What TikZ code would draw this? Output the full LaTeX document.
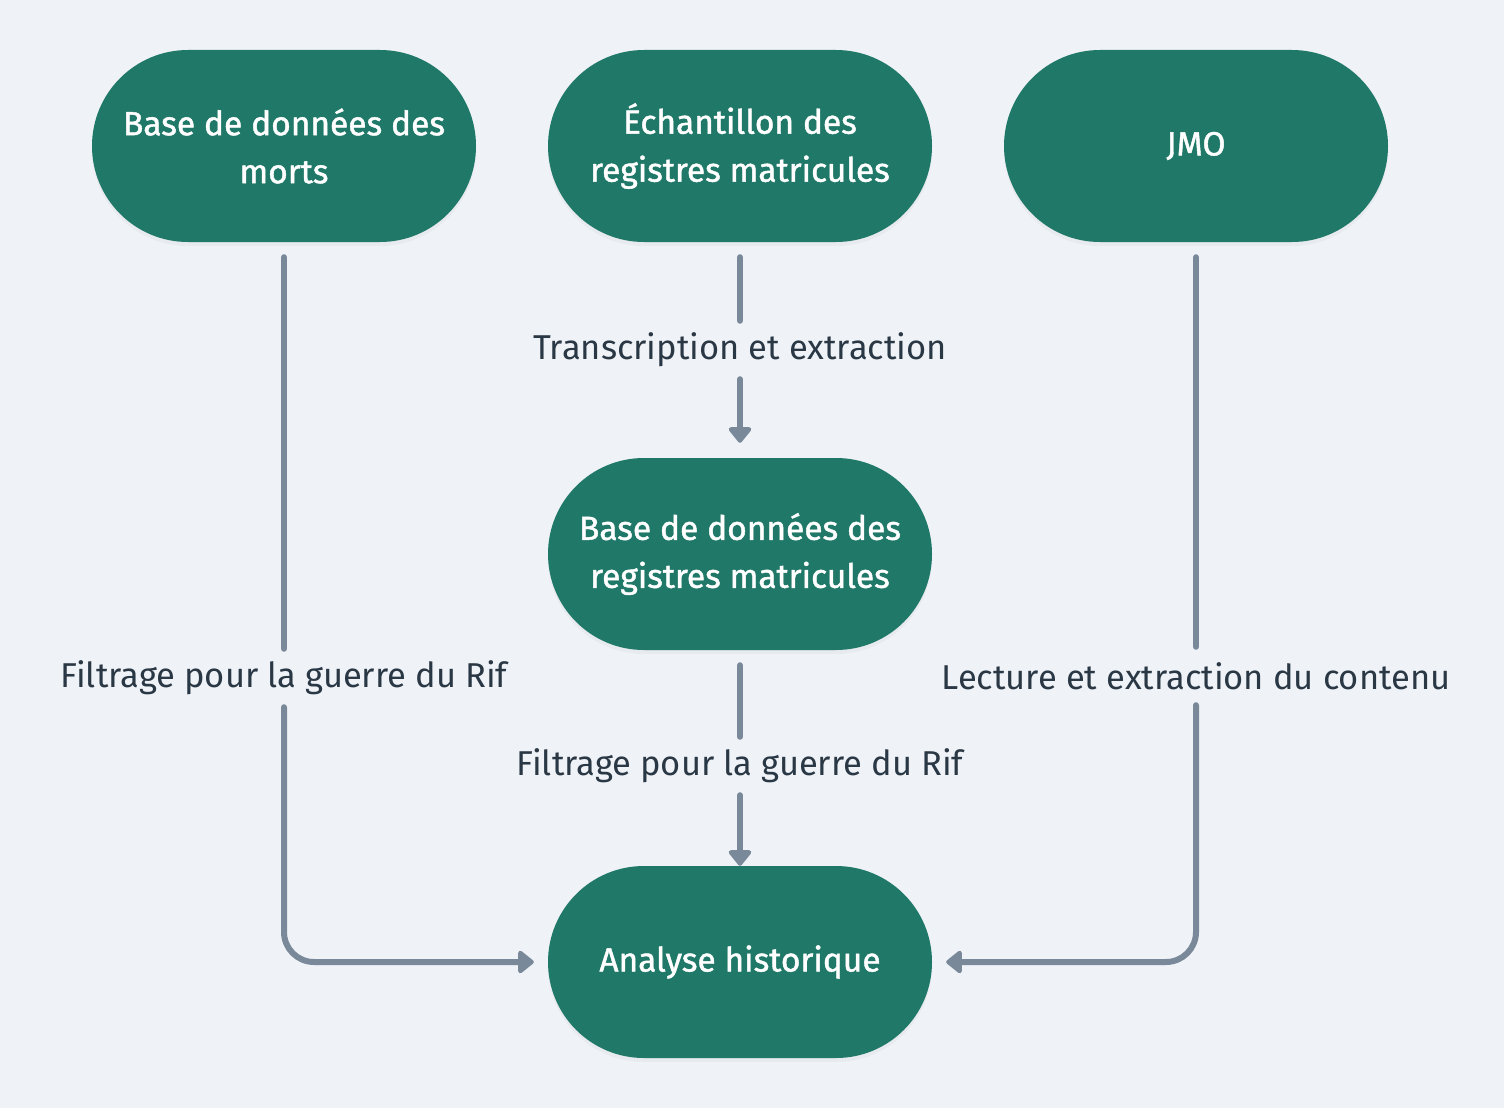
\documentclass[tikz,border=0pt]{standalone}
\usepackage{fontspec}
\setmainfont{Fira Sans}
\newfontfamily\boxfont[FakeBold=1.3]{Fira Sans}
\usetikzlibrary{arrows.meta,positioning,shadows}
\definecolor{bgcol}{HTML}{EFF3F7}
\definecolor{boxcol}{HTML}{207868}
\definecolor{txtcol}{HTML}{2A3744}
\definecolor{linecol}{HTML}{7A8999}

\begin{document}
\begin{tikzpicture}[x=1pt,y=-1pt,
	source/.style={fill=boxcol,text=white,minimum width=384pt,minimum height=192pt,rounded corners=96pt,align=center,font=\boxfont\fontsize{33.5}{48}\selectfont,drop shadow={opacity=0.07,shadow xshift=0pt,shadow yshift=-4pt}},
	steplabel/.style={text=txtcol,font=\fontsize{34.5}{40}\selectfont,minimum height=58pt,inner ysep=0pt},
	flow/.style={draw=linecol,line width=6pt,line cap=round},
	flowarrow/.style={flow,-{Triangle[width=26pt,length=17pt,round]}}]
			\fill[bgcol] (0,0) rectangle (1504,1108);
			\useasboundingbox (0,0) rectangle (1504,1108);
			\node[source] (morts) at (284,146) {Base de données des\\morts};
			\node[source] (echant) at (740,146) {Échantillon des\\registres matricules};
			\node[source] (jmo) at (1196,146) {JMO};
			\node[source] (base) at (740,554) {Base de données des\\registres matricules};
			\node[source] (analyse) at (740,962) {Analyse historique};
			\node[steplabel] (transc) at (740,350) {Transcription et extraction};
			\node[steplabel] (filtreA) at (284,678) {Filtrage pour la guerre du Rif};
			\node[steplabel] (filtreB) at (740,766) {Filtrage pour la guerre du Rif};
			\node[steplabel] (lecture) at (1196,676) {Lecture et extraction du contenu};
			\draw[flow,shorten <=15pt] (echant) -- (transc);
			\draw[flowarrow,shorten >=15pt] (transc) -- (base);
			\draw[flow,shorten <=15pt] (base) -- (filtreB);
			\draw[flowarrow] (filtreB) -- (analyse);
			\draw[flow,shorten <=15pt] (morts) -- (filtreA);
			\draw[flowarrow,rounded corners=30pt,shorten >=14pt] (filtreA) |- (analyse);
			\draw[flow,shorten <=15pt] (jmo) -- (lecture);
			\draw[flowarrow,rounded corners=30pt,shorten >=14pt] (lecture) |- (analyse);
		\end{tikzpicture}
\end{document}
